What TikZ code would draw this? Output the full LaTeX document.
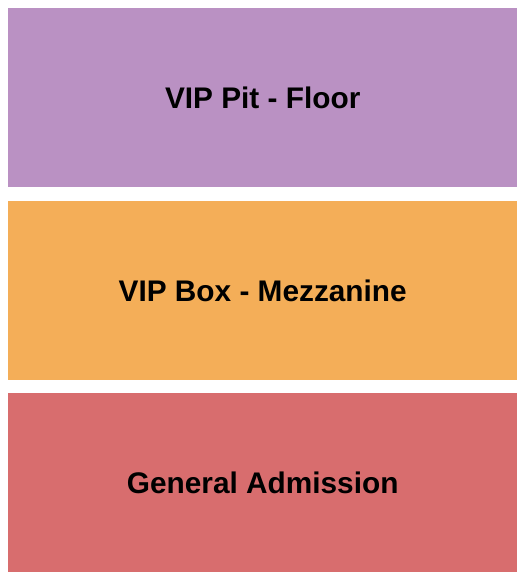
\documentclass[tikz,border=0pt]{standalone}
\usepackage{fontspec}
\setmainfont{Liberation Sans}
\definecolor{pitc}{HTML}{BA91C3}
\definecolor{boxc}{HTML}{F4AE58}
\definecolor{gac}{HTML}{D86D6E}
\begin{document}
\begin{tikzpicture}[x=1pt,y=-1pt,
  section/.style={draw=none,inner sep=0pt,anchor=north west},
  lbl/.style={font=\fontsize{29.8}{34}\selectfont\bfseries,text=black}]
\useasboundingbox[fill=white] (0,0) rectangle (525,580);
\node[section,fill=pitc,minimum width=509pt,minimum height=179pt] (pit) at (8,8) {};
\node[section,fill=boxc,minimum width=509pt,minimum height=179pt] (box) at (8,201) {};
\node[section,fill=gac,minimum width=509pt,minimum height=179pt] (ga) at (8,393) {};
\node[lbl] (pitl) at (pit.center) {VIP Pit - Floor};
\node[lbl] (boxl) at (box.center) {VIP Box - Mezzanine};
\node[lbl] (gal) at (ga.center) {General Admission};
\end{tikzpicture}
\end{document}
